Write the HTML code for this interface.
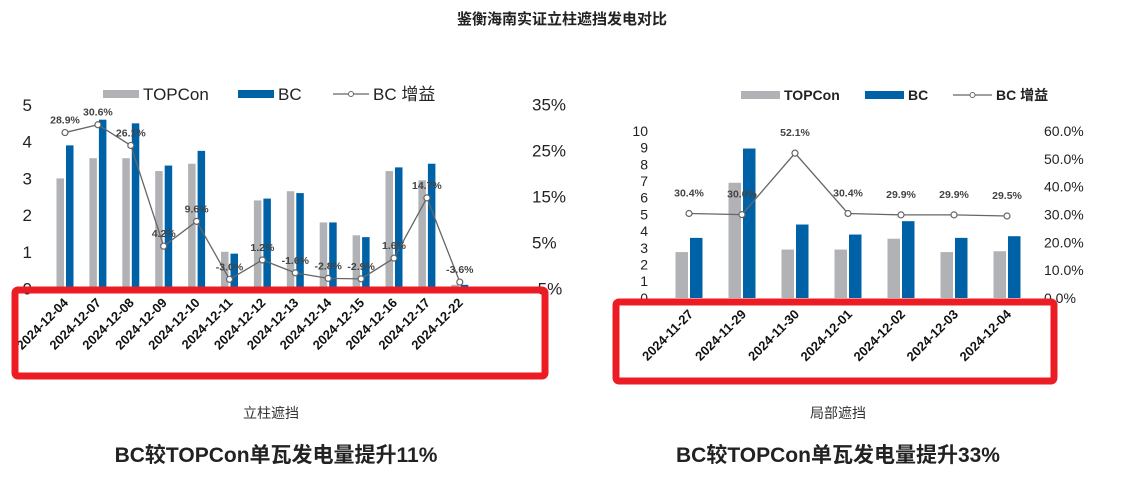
<!DOCTYPE html>
<html><head><meta charset="utf-8">
<style>
html,body{margin:0;padding:0;background:#fff;}
svg{display:block;font-family:"Liberation Sans","Noto Sans CJK SC",sans-serif;}
</style></head>
<body>
<svg id="s" width="1124" height="502" viewBox="0 0 1124 502" xmlns="http://www.w3.org/2000/svg">
<text x="562" y="24" text-anchor="middle" font-size="15" font-weight="bold" fill="#222">鉴衡海南实证立柱遮挡发电对比</text>
<g id="c1"></g>
<g id="c2"></g>
<text x="271" y="418" text-anchor="middle" font-size="14" fill="#333">立柱遮挡</text>
<text x="838" y="418" text-anchor="middle" font-size="14" fill="#333">局部遮挡</text>
<text x="276" y="462" text-anchor="middle" font-size="21" font-weight="bold" fill="#222">BC较TOPCon单瓦发电量提升11%</text>
<text x="838" y="462" text-anchor="middle" font-size="21" font-weight="bold" fill="#222">BC较TOPCon单瓦发电量提升33%</text>
</svg>
<script>
const cats1=["2024-12-04","2024-12-07","2024-12-08","2024-12-09","2024-12-10","2024-12-11","2024-12-12","2024-12-13","2024-12-14","2024-12-15","2024-12-16","2024-12-17","2024-12-22"];
const topcon1=[3.0,3.55,3.55,3.2,3.4,1.0,2.4,2.65,1.8,1.45,3.2,2.95,0.1];
const bc1=[3.9,4.6,4.5,3.35,3.75,0.95,2.45,2.6,1.8,1.4,3.3,3.4,0.1];
const gain1=[28.9,30.6,26.1,4.2,9.6,-3.0,1.2,-1.6,-2.8,-2.9,1.6,14.7,-3.6];
const leftTicks1=["0","1","2","3","4","5"];
const rightTicks1=["-5%","5%","15%","25%","35%"];

const cats2=["2024-11-27","2024-11-29","2024-11-30","2024-12-01","2024-12-02","2024-12-03","2024-12-04"];
const topcon2=[2.75,6.9,2.9,2.9,3.55,2.75,2.8];
const bc2=[3.6,8.95,4.4,3.8,4.6,3.6,3.7];
const gain2=[30.4,30.0,52.1,30.4,29.9,29.9,29.5];
const leftTicks2=["0","1","2","3","4","5","6","7","8","9","10"];
const rightTicks2=["0.0%","10.0%","20.0%","30.0%","40.0%","50.0%","60.0%"];

const NS="http://www.w3.org/2000/svg";
function mk(p,tag,a,txt){const e=document.createElementNS(NS,tag);for(const k in a)e.setAttribute(k,a[k]);if(txt!==undefined)e.textContent=txt;p.appendChild(e);return e;}

function draw(g,o){
  const cats=o.cats;
  const x=i=>o.x0+i*o.dx;
  const yl=v=>o.base-(v-o.lmin)*o.lUnit;
  const yr=v=>o.base-(v-o.rmin)*o.rUnit;
  o.lt.forEach((t,i)=>{const v=o.lmin+i*o.lStep;
    const e=mk(g,"text",{x:o.lx,y:yl(v)+o.fs*0.35,"text-anchor":"end","font-size":o.fs,fill:"#222"},t);
    
    });
  o.rt.forEach((t,i)=>{const v=o.rmin+i*o.rStep;
    const e=mk(g,"text",{x:o.rx,y:yr(v)+o.fs*0.35,"text-anchor":"start","font-size":o.fs,fill:"#222"},t);
    
    });
  cats.forEach((c,i)=>{
    const b1=mk(g,"rect",{x:x(i)-o.gap/2-o.bw,y:yl(o.t[i]),width:o.bw,height:o.base-yl(o.t[i]),fill:"#b1b2b5"});
    
    
    const b2=mk(g,"rect",{x:x(i)+o.gap/2,y:yl(o.b[i]),width:o.bw,height:o.base-yl(o.b[i]),fill:"#0062a6"});
    
    
    const l=mk(g,"text",{x:0,y:0,"text-anchor":"end","font-size":o.xfs,"font-weight":"bold",fill:"#111",transform:`translate(${x(i)+o.lbx},${o.base+o.lby}) rotate(-45)`},c);
    
    
  });
  const pts=cats.map((c,i)=>x(i)+","+yr(o.g[i])).join(" ");
  const pl=mk(g,"polyline",{points:pts,fill:"none",stroke:"#666","stroke-width":1.3});
  
  
  cats.forEach((c,i)=>{
    const p=mk(g,"circle",{cx:x(i),cy:yr(o.g[i]),r:3,fill:"#fff",stroke:"#666","stroke-width":1.2});
    
    
    const t=mk(g,"text",{x:x(i),y:yr(o.g[i])-o.lblOff,"text-anchor":"middle","font-size":10.5,"font-weight":"bold",fill:"#444"},o.g[i].toFixed(1)+"%");
    
    
  });
  const L=o.leg;
  const s1=mk(g,"rect",{x:L.x1,y:L.y-4,width:L.w,height:8,fill:"#b1b2b5"});
  
  
  const t1=mk(g,"text",{x:L.x1+L.w+4,y:L.y+L.fs*0.35,"font-size":L.fs,"font-weight":L.fw,fill:"#222"},"TOPCon");
  
  
  const s2=mk(g,"rect",{x:L.x2,y:L.y-4,width:L.w,height:8,fill:"#0062a6"});
  
  
  const t2=mk(g,"text",{x:L.x2+L.w+4,y:L.y+L.fs*0.35,"font-size":L.fs,"font-weight":L.fw,fill:"#222"},"BC");
  
  
  const ln=mk(g,"line",{x1:L.x3,x2:L.x3+L.w,y1:L.y,y2:L.y,stroke:"#666","stroke-width":1.2});
  
  
  const lc=mk(g,"circle",{cx:L.x3+L.w/2,cy:L.y,r:2.5,fill:"#fff",stroke:"#666"});
  
  
  const t3=mk(g,"text",{x:L.x3+L.w+4,y:L.y+L.fs*0.35,"font-size":L.fs,"font-weight":L.fw,fill:"#222"},"BC 增益");
  
  
  const r=mk(g,"rect",Object.assign({fill:"none",stroke:"#ec1c24","stroke-width":7,rx:3},o.box));
  
  
}
draw(document.getElementById("c1"),{cats:cats1,t:topcon1,b:bc1,g:gain1,lt:leftTicks1,rt:rightTicks1,
  x0:65,dx:32.9,base:288.5,lmin:0,lStep:1,lUnit:36.7,rmin:-5,rStep:10,rUnit:4.6,
  lx:32,rx:532,fs:17,xfs:13,bw:7.5,gap:2,lblOff:9,lbx:4,lby:15,
  leg:{x1:103,x2:238,x3:333,w:36,y:94,fs:17,fw:"normal"},
  box:{x:15,y:290,width:530,height:86}});
draw(document.getElementById("c2"),{cats:cats2,t:topcon2,b:bc2,g:gain2,lt:leftTicks2,rt:rightTicks2,
  x0:689,dx:53,base:298,lmin:0,lStep:1,lUnit:16.7,rmin:0,rStep:10,rUnit:2.78,
  lx:648,rx:1044,fs:14,xfs:13,bw:12.5,gap:2,lblOff:17,lbx:5,lby:17,
  leg:{x1:741,x2:865,x3:953,w:39,y:95,fs:14,fw:"bold"},
  box:{x:616,y:302,width:438,height:79}});
</script>
</body></html>
